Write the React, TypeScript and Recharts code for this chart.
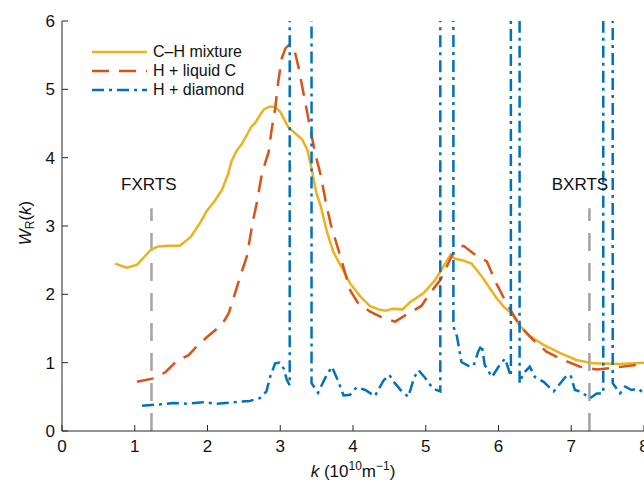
import { LineChart, Line, XAxis, YAxis, ReferenceLine, ReferenceDot, Legend } from "recharts";

const FONT = '"Liberation Sans", Arial, Helvetica, sans-serif';
const INK = "#111111";
const AXIS = "#262626";

const kTicks = [0, 1, 2, 3, 4, 5, 6, 7, 8];
const wTicks = [0, 1, 2, 3, 4, 5, 6];

// C–H mixture
const mixtureK = [
  0.73, 0.89, 1.03, 1.15, 1.23, 1.32, 1.46, 1.62, 1.77, 1.9, 1.99, 2.1, 2.2, 2.28, 2.33, 2.4, 2.47,
  2.55, 2.6, 2.65, 2.72, 2.78, 2.86, 2.93, 3.0, 3.06, 3.11, 3.2, 3.3, 3.37, 3.43, 3.47, 3.5, 3.56,
  3.64, 3.73, 3.84, 3.96, 4.1, 4.23, 4.35, 4.44, 4.55, 4.68, 4.78, 4.97, 5.13, 5.25, 5.34, 5.4,
  5.5, 5.63, 5.77, 5.88, 5.97, 6.07, 6.18, 6.3, 6.43, 6.62, 6.85, 7.07, 7.3, 7.67, 8.0,
];
const mixtureW = [
  2.45, 2.39, 2.43, 2.57, 2.66, 2.7, 2.71, 2.71, 2.84, 3.05, 3.22, 3.37, 3.53, 3.75, 3.95, 4.1, 4.2,
  4.35, 4.45, 4.5, 4.62, 4.71, 4.75, 4.74, 4.67, 4.55, 4.45, 4.36, 4.27, 4.12, 3.85, 3.62, 3.47,
  3.28, 2.92, 2.62, 2.4, 2.16, 1.97, 1.83, 1.78, 1.76, 1.79, 1.78, 1.88, 2.02, 2.21, 2.42, 2.58,
  2.52, 2.5, 2.45, 2.26, 2.09, 1.95, 1.82, 1.72, 1.53, 1.39, 1.26, 1.14, 1.04, 0.99, 0.98, 1.0,
];

// H + liquid C
const liquidK = [
  1.03, 1.26, 1.42, 1.58, 1.74, 1.87, 2.01, 2.2, 2.29, 2.35, 2.4, 2.47, 2.54, 2.58, 2.62, 2.68,
  2.74, 2.8, 2.84, 2.88, 2.93, 2.97, 3.02, 3.07, 3.12, 3.16, 3.2, 3.25, 3.32, 3.39, 3.48, 3.55,
  3.64, 3.7, 3.8, 3.96, 4.07, 4.23, 4.42, 4.58, 4.76, 4.94, 5.06, 5.2, 5.33, 5.4, 5.52, 5.65, 5.84,
  5.97, 6.11, 6.3, 6.48, 6.66, 6.89, 7.12, 7.35, 7.62, 8.0,
];
const liquidW = [
  0.72, 0.77, 0.86, 1.03, 1.11, 1.26, 1.39, 1.56, 1.72, 1.92, 2.09, 2.33, 2.55, 2.8, 3.05, 3.35,
  3.72, 3.95, 4.08, 4.4, 4.72, 5.09, 5.45, 5.6, 5.65, 5.63, 5.55, 5.33, 4.94, 4.55, 4.06, 3.77,
  3.28, 3.0, 2.65, 2.06, 1.87, 1.75, 1.65, 1.6, 1.72, 1.83, 2.02, 2.21, 2.5, 2.66, 2.71, 2.6, 2.48,
  2.16, 1.87, 1.53, 1.33, 1.16, 1.04, 0.94, 0.9, 0.93, 0.98,
];

// H + diamond (40 = diverges above the top of the frame)
const diamondK = [
  1.1, 1.35, 1.53, 1.71, 1.94, 2.13, 2.35, 2.58, 2.72, 2.81, 2.86, 2.93, 2.99, 3.05, 3.09, 3.13,
  3.13, 3.43, 3.43, 3.52, 3.62, 3.71, 3.8, 3.87, 3.96, 4.05, 4.17, 4.3, 4.42, 4.5, 4.56, 4.67,
  4.76, 4.84, 4.9, 4.99, 5.1, 5.2, 5.2, 5.38, 5.38, 5.43, 5.49, 5.61, 5.66, 5.72, 5.77, 5.81,
  5.91, 6.0, 6.09, 6.17, 6.17, 6.29, 6.29, 6.34, 6.43, 6.5, 6.62, 6.76, 6.85, 6.92, 6.99, 7.05,
  7.12, 7.19, 7.26, 7.35, 7.44, 7.44, 7.57, 7.57, 7.67, 7.74, 7.83, 7.92, 8.0,
];
const diamondW = [
  0.37, 0.39, 0.41, 0.4, 0.42, 0.4, 0.42, 0.44, 0.48, 0.58, 0.79, 0.99, 1.0, 0.91, 0.75, 0.67,
  40, 40, 0.7, 0.56, 0.78, 0.94, 0.72, 0.52, 0.53, 0.64, 0.6, 0.51, 0.74, 0.82, 0.72, 0.58,
  0.5, 0.78, 0.89, 0.78, 0.62, 0.58, 40, 40, 1.53, 1.38, 1.01, 0.94, 0.96, 1.16, 1.26, 0.97,
  0.79, 0.94, 1.06, 0.8, 40, 40, 0.7, 0.84, 0.94, 0.79, 0.72, 0.58, 0.7, 0.79, 0.82, 0.6,
  0.58, 0.53, 0.48, 0.55, 0.55, 40, 40, 0.7, 0.55, 0.65, 0.6, 0.62, 0.55,
];

// resolution markers
const fxrtsK = 1.23;
const bxrtsK = 7.25;
const markerTop = 3.26;

const toPoints = (ks: number[], ws: number[]) => ks.map((k, i) => ({ k, w: ws[i] }));

const series = [
  { name: "C–H mixture", data: toPoints(mixtureK, mixtureW), color: "#EDB120", dash: undefined },
  { name: "H + liquid C", data: toPoints(liquidK, liquidW), color: "#D95319", dash: "17 10" },
  { name: "H + diamond", data: toPoints(diamondK, diamondW), color: "#0072BD", dash: "12 5 3 5" },
];

const tickStyle = { fill: INK, fontSize: 17, fontFamily: FONT };

function XLabel(props: any) {
  const vb = props.viewBox || { x: 62, y: 431, width: 582, height: 55 };
  return (
    <text x={vb.x + vb.width / 2} y={vb.y + 46} textAnchor="middle" fontFamily={FONT} fontSize={17} fill={INK}>
      <tspan fontStyle="italic">k</tspan>
      <tspan> (10</tspan>
      <tspan dy={-7} fontSize={12}>10</tspan>
      <tspan dy={7}>m</tspan>
      <tspan dy={-7} fontSize={12}>−1</tspan>
      <tspan dy={7}>)</tspan>
    </text>
  );
}

function YLabel(props: any) {
  const vb = props.viewBox || { x: 0, y: 21, width: 62, height: 410 };
  const cx = vb.x + 31;
  const cy = vb.y + vb.height / 2 - 3;
  return (
    <text transform={`translate(${cx},${cy}) rotate(-90)`} textAnchor="middle" fontFamily={FONT} fontSize={17} fill={INK}>
      <tspan fontStyle="italic">W</tspan>
      <tspan dy={3} fontSize={12}>R</tspan>
      <tspan dy={-3}>(</tspan>
      <tspan fontStyle="italic">k</tspan>
      <tspan>)</tspan>
    </text>
  );
}

function LegendBox() {
  return (
    <div style={{ fontFamily: FONT, fontSize: 16, color: INK }}>
      {series.map((s) => (
        <div key={s.name} style={{ display: "flex", alignItems: "center", height: 19 }}>
          <svg width={55} height={6}>
            <line x1={0} y1={3} x2={55} y2={3} stroke={s.color} strokeWidth={2.5} strokeDasharray={s.dash} />
          </svg>
          <span style={{ marginLeft: 6, lineHeight: "19px", whiteSpace: "nowrap" }}>{s.name}</span>
        </div>
      ))}
    </div>
  );
}

export default function App() {
  return (
    <div style={{ position: "absolute", left: 0, top: 0, background: "#fff" }}>
      <LineChart width={644} height={486} margin={{ top: 21, right: 0, left: 0, bottom: 0 }}>
        <XAxis
          type="number"
          dataKey="k"
          domain={[0, 8]}
          ticks={kTicks}
          interval={0}
          allowDataOverflow
          height={55}
          stroke={AXIS}
          tickSize={-6}
          tickMargin={15}
          tick={tickStyle}
          label={XLabel}
        />
        <XAxis
          xAxisId="top"
          orientation="top"
          type="number"
          dataKey="k"
          domain={[0, 8]}
          ticks={kTicks}
          interval={0}
          height={0}
          stroke={AXIS}
          tickSize={-6}
          tick={false}
        />
        <YAxis
          type="number"
          domain={[0, 6]}
          ticks={wTicks}
          interval={0}
          allowDataOverflow
          width={62}
          stroke={AXIS}
          tickSize={-6}
          tickMargin={13}
          tick={tickStyle}
          label={YLabel}
        />
        <YAxis
          yAxisId="right"
          orientation="right"
          type="number"
          domain={[0, 6]}
          ticks={wTicks}
          interval={0}
          width={0}
          stroke={AXIS}
          tickSize={-6}
          tick={false}
        />
        <ReferenceLine
          segment={[{ x: fxrtsK, y: 0 }, { x: fxrtsK, y: markerTop }]}
          stroke="#a3a3a3"
          strokeWidth={2.5}
          strokeDasharray="18 12"
          ifOverflow="visible"
        />
        <ReferenceLine
          segment={[{ x: bxrtsK, y: 0 }, { x: bxrtsK, y: markerTop }]}
          stroke="#a3a3a3"
          strokeWidth={2.5}
          strokeDasharray="18 12"
          ifOverflow="visible"
        />
        <ReferenceDot
          x={1.193}
          y={3.62}
          r={0}
          fill="none"
          stroke="none"
          label={{ value: "FXRTS", position: "center", fontSize: 17, fill: INK, fontFamily: FONT }}
        />
        <ReferenceDot
          x={7.12}
          y={3.62}
          r={0}
          fill="none"
          stroke="none"
          label={{ value: "BXRTS", position: "center", fontSize: 17, fill: INK, fontFamily: FONT }}
        />
        {series.map((s) => (
          <Line
            key={s.name}
            data={s.data}
            dataKey="w"
            name={s.name}
            type="linear"
            stroke={s.color}
            strokeWidth={2.5}
            strokeDasharray={s.dash}
            dot={false}
            activeDot={false}
            isAnimationActive={false}
          />
        ))}
        <Legend
          layout="vertical"
          align="center"
          verticalAlign="middle"
          content={LegendBox}
          wrapperStyle={{ left: 92, top: 42, width: 220, height: 57 }}
        />
      </LineChart>
    </div>
  );
}
